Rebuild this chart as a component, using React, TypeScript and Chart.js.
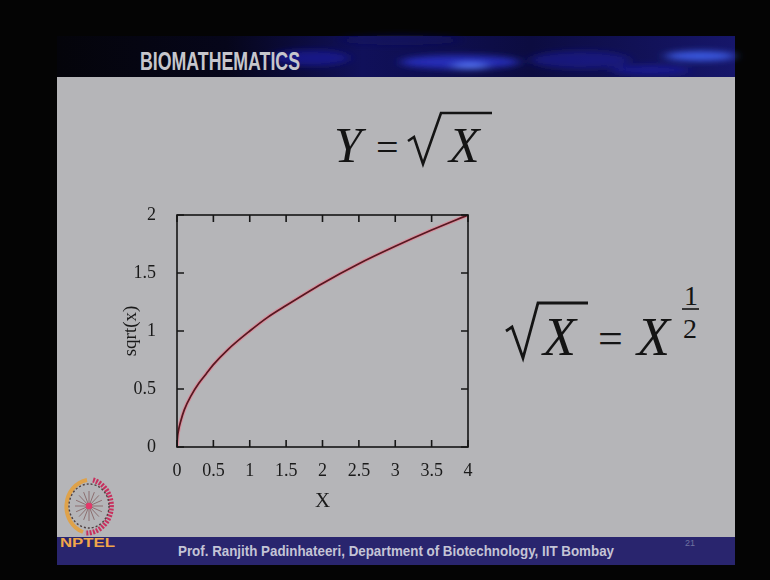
import React, { useEffect, useRef } from "react";
import { Chart, registerables } from "chart.js";

Chart.register(...registerables);

// y = sqrt(x) sampled along the curve
const xValues = [0, 0.005, 0.02, 0.05, 0.1, 0.2, 0.3, 0.4, 0.5, 0.7, 1, 1.25, 1.5, 2, 2.5, 3, 3.5, 4];
const yValues = [0, 0.07, 0.14, 0.22, 0.32, 0.45, 0.55, 0.63, 0.71, 0.84, 1, 1.12, 1.22, 1.41, 1.58, 1.73, 1.87, 2];

const xTicks = [0, 0.5, 1, 1.5, 2, 2.5, 3, 3.5, 4];
const yTicks = [0, 0.5, 1, 1.5, 2];

const xTitle = "X";
const yTitle = "sqrt(x)";

const SERIF = "'Liberation Serif', 'Times New Roman', serif";
const INK = "#1a1a1a";

// gnuplot-style frame with inward ticks on all four sides
const framePlugin = {
  id: "gnuFrame",
  afterDatasetsDraw(chart: any) {
    const { ctx, chartArea: a, scales } = chart;
    const len = 7;
    ctx.save();
    ctx.strokeStyle = "#161616";
    ctx.lineWidth = 1.6;
    ctx.strokeRect(a.left, a.top, a.right - a.left, a.bottom - a.top);
    ctx.beginPath();
    scales.x.ticks.forEach((t: any) => {
      const p = scales.x.getPixelForValue(t.value);
      ctx.moveTo(p, a.bottom);
      ctx.lineTo(p, a.bottom - len);
      ctx.moveTo(p, a.top);
      ctx.lineTo(p, a.top + len);
    });
    scales.y.ticks.forEach((t: any) => {
      const p = scales.y.getPixelForValue(t.value);
      ctx.moveTo(a.left, p);
      ctx.lineTo(a.left + len, p);
      ctx.moveTo(a.right, p);
      ctx.lineTo(a.right - len, p);
    });
    ctx.stroke();
    ctx.restore();
  },
};

function SqrtChart() {
  const ref = useRef<HTMLCanvasElement | null>(null);

  useEffect(() => {
    if (!ref.current) return;
    const points = xValues.map((x, i) => ({ x, y: yValues[i] }));
    const chart = new Chart(ref.current, {
      type: "line",
      data: {
        datasets: [
          {
            data: points,
            borderColor: "#561820",
            borderWidth: 1.7,
            pointRadius: 0,
            cubicInterpolationMode: "monotone",
            order: 1,
          },
          {
            data: points,
            borderColor: "rgba(236, 118, 140, 0.6)",
            borderWidth: 3.8,
            pointRadius: 0,
            cubicInterpolationMode: "monotone",
            order: 2,
          },
        ],
      },
      options: {
        responsive: false,
        animation: false,
        devicePixelRatio: 1,
        layout: { padding: { left: 117, top: 215, right: 302, bottom: 65 } },
        plugins: { legend: { display: false }, tooltip: { enabled: false } },
        scales: {
          x: {
            type: "linear",
            min: 0,
            max: 4,
            afterBuildTicks: (s: any) => {
              s.ticks = xTicks.map((v) => ({ value: v }));
            },
            afterFit: (s: any) => {
              s.height = 68;
            },
            grid: { display: false },
            border: { display: false },
            ticks: {
              color: INK,
              padding: 5,
              font: { family: SERIF, size: 18 },
              callback: (v: any) => String(v),
            },
            title: {
              display: true,
              text: xTitle,
              color: INK,
              padding: { top: 0, bottom: 1 },
              font: { family: SERIF, size: 21 },
            },
          },
          y: {
            type: "linear",
            min: 0,
            max: 2,
            afterBuildTicks: (s: any) => {
              s.ticks = yTicks.map((v) => ({ value: v }));
            },
            afterFit: (s: any) => {
              s.width = 60;
            },
            grid: { display: false },
            border: { display: false },
            ticks: {
              color: INK,
              padding: 13,
              font: { family: SERIF, size: 18 },
              callback: (v: any) => String(v),
            },
            title: {
              display: true,
              text: yTitle,
              color: INK,
              padding: { top: 3, bottom: 0 },
              font: { family: SERIF, size: 19 },
            },
          },
        },
      },
      plugins: [framePlugin],
    } as any);
    return () => chart.destroy();
  }, []);

  return (
    <canvas
      ref={ref}
      width={770}
      height={580}
      style={{ position: "absolute", left: 0, top: 0, width: 770, height: 580 }}
    />
  );
}

function Logo() {
  const cx = 89;
  const cy = 506;
  const spokes = Array.from({ length: 8 }, (_, i) => (i * Math.PI) / 8);
  return (
    <g>
      <path
        d={`M ${cx - 2} ${cy - 26} A 25 27 0 0 0 ${cx - 6} ${cy + 26}`}
        fill="none"
        stroke="#dfa24a"
        strokeWidth={4}
      />
      <path
        d={`M ${cx + 4} ${cy - 26} A 25 27 0 0 1 ${cx - 4} ${cy + 27}`}
        fill="none"
        stroke="#c8305e"
        strokeWidth={5}
        strokeDasharray="2 1.3"
      />
      <ellipse cx={cx} cy={cy} rx={20} ry={22} fill="none" stroke="#4e4040" strokeWidth={1.4} strokeDasharray="2 2" />
      {spokes.map((a, i) => (
        <line
          key={i}
          x1={cx - 14 * Math.cos(a)}
          y1={cy - 15 * Math.sin(a)}
          x2={cx + 14 * Math.cos(a)}
          y2={cy + 15 * Math.sin(a)}
          stroke="#8c6f70"
          strokeWidth={1}
        />
      ))}
      <circle cx={cx} cy={cy} r={3.2} fill="#e4386a" />
    </g>
  );
}

function Slide() {
  return (
    <svg width={770} height={580} style={{ position: "absolute", left: 0, top: 0 }}>
      <defs>
        <filter id="soft" x="-20%" y="-200%" width="140%" height="500%">
          <feGaussianBlur stdDeviation="6 3" />
        </filter>
        <linearGradient id="band" x1="0" x2="1" y1="0" y2="0">
          <stop offset="0" stopColor="#04040a" />
          <stop offset="0.25" stopColor="#06061a" />
          <stop offset="0.45" stopColor="#10105a" />
          <stop offset="0.7" stopColor="#0c0c40" />
          <stop offset="1" stopColor="#16166a" />
        </linearGradient>
      </defs>
      <rect x={0} y={0} width={770} height={580} fill="#040404" />
      {/* header band */}
      <rect x={57} y={36} width={678} height={42} fill="url(#band)" />
      <g filter="url(#soft)">
        <ellipse cx={310} cy={58} rx={40} ry={8} fill="#1c1ca0" opacity={0.7} />
        <ellipse cx={460} cy={62} rx={60} ry={7} fill="#2e36d8" opacity={0.75} />
        <ellipse cx={470} cy={66} rx={18} ry={3} fill="#5a7cff" />
        <ellipse cx={580} cy={60} rx={50} ry={9} fill="#1a1a90" opacity={0.7} />
        <ellipse cx={700} cy={56} rx={35} ry={5} fill="#3a58e0" />
        <ellipse cx={650} cy={70} rx={40} ry={5} fill="#2020b0" opacity={0.6} />
        <ellipse cx={400} cy={40} rx={60} ry={5} fill="#141460" opacity={0.6} />
      </g>
      <text
        x={140}
        y={70}
        textLength={160}
        lengthAdjust="spacingAndGlyphs"
        fontFamily="'Liberation Sans Narrow', 'Liberation Sans', Arial, sans-serif"
        fontWeight="bold"
        fontSize={25}
        fill="#c6c6cc"
      >
        BIOMATHEMATICS
      </text>
      {/* slide body */}
      <rect x={57} y={77} width={678} height={460} fill="#b5b5b8" />
      <rect x={57} y={537} width={678} height={28} fill="#29256e" />
      <text
        x={60}
        y={547}
        textLength={55}
        lengthAdjust="spacingAndGlyphs"
        fontFamily="'Liberation Sans', Arial, sans-serif"
        fontWeight="bold"
        fontSize={13}
        fill="#f0a64a"
      >
        NPTEL
      </text>
      <text
        x={178}
        y={556}
        textLength={436}
        lengthAdjust="spacingAndGlyphs"
        fontFamily="'Liberation Sans Narrow', 'Liberation Sans', Arial, sans-serif"
        fontWeight="bold"
        fontSize={15}
        fill="#c4c4d6"
      >
        Prof. Ranjith Padinhateeri, Department of Biotechnology, IIT Bombay
      </text>
      <text x={685} y={546} fontFamily="'Liberation Sans', Arial, sans-serif" fontSize={9} fill="#6e72a0">
        21
      </text>
      <Logo />

      {/* Y = sqrt(X) */}
      <g fill="#141414" fontFamily={SERIF}>
        <text x={334} y={162} fontSize={50} fontStyle="italic">Y</text>
        <text x={376} y={161} fontSize={40}>=</text>
        <path d="M 408 141 L 414 137 L 423 164 L 441 113 L 492 113" fill="none" stroke="#141414" strokeWidth={2.6} />
        <text x={449} y={162} fontSize={50} fontStyle="italic">X</text>
      </g>

      {/* sqrt(X) = X^(1/2) */}
      <g fill="#141414" fontFamily={SERIF}>
        <path d="M 506 331 L 512 327 L 523 358 L 538 303 L 588 303" fill="none" stroke="#141414" strokeWidth={2.8} />
        <text x={543} y={355} fontSize={54} fontStyle="italic">X</text>
        <text x={598} y={353} fontSize={44}>=</text>
        <text x={637} y={355} fontSize={54} fontStyle="italic">X</text>
        <text x={684} y={305} fontSize={28}>1</text>
        <line x1={682} y1={309} x2={699} y2={309} stroke="#141414" strokeWidth={1.6} />
        <text x={683} y={338} fontSize={28}>2</text>
      </g>
    </svg>
  );
}

export default function App() {
  return (
    <div style={{ position: "fixed", left: 0, top: 0, width: 770, height: 580, overflow: "hidden", background: "#040404" }}>
      <Slide />
      <SqrtChart />
    </div>
  );
}
